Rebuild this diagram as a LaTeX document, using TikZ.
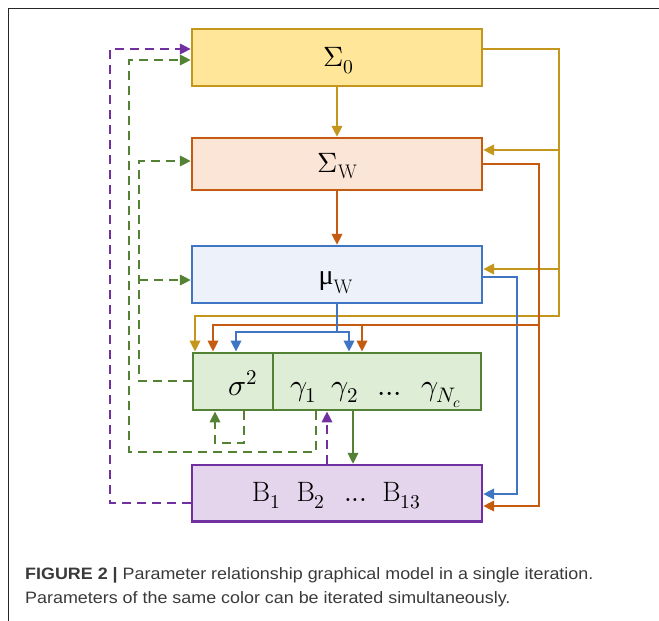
\documentclass[tikz,border=0pt]{standalone}
\usepackage{fontspec}
\usepackage{unicode-math}
\setmathfont{Latin Modern Math}
\newfontfamily\capfont[FakeStretch=1.085]{Liberation Sans}
\newfontfamily\grkfont{Liberation Serif}
\usetikzlibrary{arrows.meta}
\definecolor{cY}{HTML}{C4961C}
\definecolor{fY}{HTML}{FFE699}
\definecolor{cO}{HTML}{C55A11}
\definecolor{fO}{HTML}{FBE5D6}
\definecolor{cB}{HTML}{3F75C2}
\definecolor{fB}{HTML}{EDF2FA}
\definecolor{cG}{HTML}{548235}
\definecolor{fG}{HTML}{DEEDD5}
\definecolor{cP}{HTML}{7030A0}
\definecolor{fP}{HTML}{E5D5EC}
\definecolor{capc}{HTML}{3A3A3A}
\tikzset{
  box/.style={draw, line width=2.4pt, minimum width=290pt, inner sep=0pt},
  con/.style={line width=2.1pt, -{Triangle[length=11pt,width=10.5pt]}},
  dsh/.style={dash pattern=on 9pt off 6pt},
  lbl/.style={inner sep=0pt, font=\fontsize{28}{30}\selectfont},
  lblg/.style={inner sep=0pt, font=\fontsize{30}{32}\selectfont},
  captxt/.style={inner sep=0pt, anchor=base west, text=capc, font=\capfont\fontsize{16.5}{18}\selectfont}
}
\begin{document}
\begin{tikzpicture}[x=1pt,y=-1pt]
\useasboundingbox (0,0) rectangle (659,621);
% frame (top and left edges)
\draw[gray!30!black, line width=1.2pt] (8.3,621) -- (8.3,8.3) -- (659,8.3);

% boxes
\node[box, draw=cY, fill=fY, minimum height=57pt] (s0) at (337,57.5) {};
\node[box, draw=cO, fill=fO, minimum height=52pt] (sw) at (337,164) {};
\node[box, draw=cB, fill=fB, minimum height=57pt] (mw) at (337,274.5) {};
\node[box, draw=cG, fill=fG, minimum width=288pt, minimum height=57.5pt] (g) at (337,381.5) {};
\node[box, draw=cP, fill=fP, minimum height=56.5pt] (B) at (337,493.3) {};
\draw[cG, line width=2.4pt] (273,0 |- g.north) -- (273,0 |- g.south);

% labels
\node[lbl, anchor=base west] (t0) at (323,66.7) {$\Sigma_0$};
\node[lbl, anchor=base west] (tw) at (317.7,172) {$\Sigma_{\mathrm{W}}$};
\node[lbl, anchor=base west] (tm) at (318.3,284) {$\mbox{\grkfont μ}_{\mathrm{W}}$};
\node[lblg, anchor=base west] (ts) at (228.5,395) {$\sigma^2$};
\node[lblg, anchor=base west] (tg) at (290,395) {$\gamma_1\hspace{15pt}\gamma_2\hspace{19pt}...\hspace{19pt}\gamma_{N_c}$};
\node[lbl, anchor=base west] (tb) at (251.7,501.7) {$\mathrm{B}_1\hspace{16pt}\mathrm{B}_2\hspace{19pt}...\hspace{15pt}\mathrm{B}_{13}$};

% yellow
\draw[con,cY] (s0.south) -- (sw.north);
\draw[con,cY] (s0.east |- 0,49) -- (559,49) -- (559,316) -- (195,316) -- (195,0 |- g.north);
\draw[con,cY] (559,150) -- (sw.east |- 0,150);
\draw[con,cY] (559,269) -- (mw.east |- 0,269);

% blue
\draw[con,cB] (mw.east |- 0,277) -- (517,277) -- (517,494) -- (B.east |- 0,494);

% orange
\draw[con,cO] (sw.south) -- (mw.north);
\draw[con,cO] (sw.east |- 0,164) -- (539,164) -- (539,506) -- (B.east |- 0,506);
\draw[con,cO] (539,325) -- (213,325) -- (213,0 |- g.north);
\draw[con,cO] (362,325) -- (362,0 |- g.north);

% blue (mu to sigma/gamma)
\draw[con,cB] (mw.south) -- (337,332) -- (236,332) -- (236,0 |- g.north);
\draw[con,cB] (337,332) -- (349,332) -- (349,0 |- g.north);

% green
\draw[con,cG] (353,0 |- g.south) -- (353,0 |- B.north);
\draw[con,cG,dsh] (244,0 |- g.south) -- (244,443) -- (215,443) -- (215,0 |- g.south);
\draw[con,cG,dsh] (g.west |- 0,381) -- (139,381) -- (139,161) -- (sw.west |- 0,161);
\draw[con,cG,dsh] (139,280) -- (mw.west |- 0,280);
\draw[con,cG,dsh] (316,0 |- g.south) -- (316,452) -- (129,452) -- (129,60) -- (s0.west |- 0,60);

% purple
\draw[con,cP,dsh] (B.west |- 0,503) -- (110,503) -- (110,49) -- (s0.west |- 0,49);
\draw[con,cP,dsh] (327,0 |- B.north) -- (327,0 |- g.south);

% caption
\node[captxt] (c1) at (25,579.5) {\textbf{FIGURE 2 |} Parameter relationship graphical model in a single iteration.};
\node[captxt] (c2) at (25,603) {Parameters of the same color can be iterated simultaneously.};
\end{tikzpicture}
\end{document}
